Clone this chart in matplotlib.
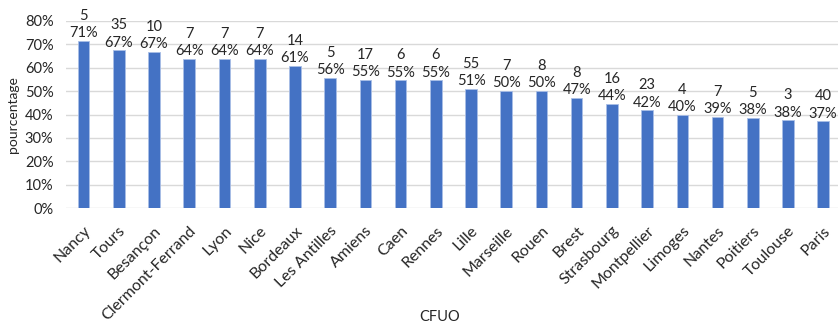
import matplotlib
matplotlib.use("Agg")
import matplotlib.pyplot as plt
from matplotlib.ticker import PercentFormatter

# CFUO sites, share in percent and counts
categories = ["Nancy", "Tours", "Besançon", "Clermont-Ferrand", "Lyon", "Nice",
              "Bordeaux", "Les Antilles", "Amiens", "Caen", "Rennes", "Lille",
              "Marseille", "Rouen", "Brest", "Strasbourg", "Montpellier",
              "Limoges", "Nantes", "Poitiers", "Toulouse", "Paris"]
percentages = [71.43, 67.31, 66.67, 63.64, 63.64, 63.64, 60.87, 55.56, 54.84,
               54.55, 54.55, 50.93, 50.00, 50.00, 47.06, 44.44, 41.82, 40.00,
               38.89, 38.46, 37.50, 37.04]
counts = [5, 35, 10, 7, 7, 7, 14, 5, 17, 6, 6, 55, 7, 8, 8, 16, 23, 4, 7, 5, 3, 40]
yticks = [0, 10, 20, 30, 40, 50, 60, 70, 80]

plt.rcParams["font.family"] = ["Lato", "DejaVu Sans"]

fig = plt.figure(figsize=(8.38, 3.24), dpi=100)
ax = fig.add_axes([66 / 838, (324 - 208.3) / 324, (838 - 66) / 838, (208.3 - 20.7) / 324])

x = list(range(len(categories)))
ax.bar(x, percentages, width=0.33, color="#4472C4", edgecolor="#A9BEE6",
       linewidth=0.6, zorder=3)

text_color = "#262626"
for xi, p, c in zip(x, percentages, counts):
    ax.annotate(f"{c}\n{int(p + 0.5):d}%", (xi, p), xytext=(0, 0.5),
                textcoords="offset points", ha="center", va="bottom",
                fontsize=10.5, color=text_color, linespacing=1.3,
                annotation_clip=False)

ax.set_ylim(0, 80)
ax.set_xlim(-0.5, 21.42)
ax.set_yticks(yticks)
ax.yaxis.set_major_formatter(PercentFormatter(decimals=0))
ax.grid(axis="y", color="#D9D9D9", linewidth=1, zorder=0)
ax.set_axisbelow(True)
for s in ax.spines.values():
    s.set_visible(False)
ax.tick_params(axis="both", length=0, labelsize=10.5, colors=text_color)
ax.tick_params(axis="y", pad=9)
ax.set_xticks(x)
ax.set_xticklabels(categories, rotation=45, ha="right", rotation_mode="anchor",
                   fontsize=11.5)
ax.tick_params(axis="x", pad=11)

ax.set_ylabel("pourcentage", fontsize=10, color=text_color, labelpad=4)
fig.text(0.525, 0.022, "CFUO", ha="center", va="center", fontsize=10.5, color=text_color)

fig.savefig("out.png", dpi=100)
